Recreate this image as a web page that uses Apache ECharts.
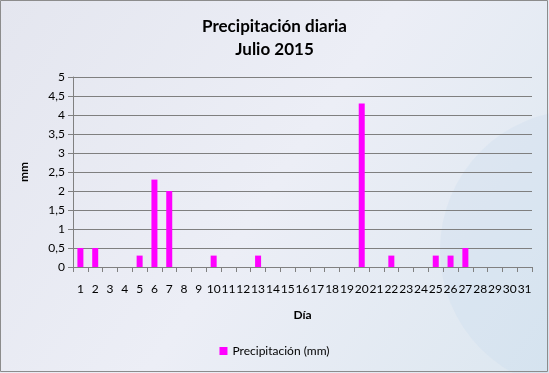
<!DOCTYPE html>
<html><head><meta charset="utf-8">
<script src="https://cdn.jsdelivr.net/npm/echarts@6/dist/echarts.min.js"></script>
<style>html,body{margin:0;padding:0;background:#fff}#c{width:549px;height:373px}</style>
</head><body><div id="c"></div>
<script>
const categories = ['1','2','3','4','5','6','7','8','9','10','11','12','13','14','15','16','17','18','19','20','21','22','23','24','25','26','27','28','29','30','31'];
const precipitation = [0.5,0.5,0,0,0.3,2.3,2.0,0,0,0.3,0,0,0.3,0,0,0,0,0,0,4.3,0,0.3,0,0,0.3,0.3,0.5,0,0,0,0];
const yTicks = [0,0.5,1,1.5,2,2.5,3,3.5,4,4.5,5];
const seriesName = 'Precipitación (mm)';
const titleText = 'Precipitación diaria\nJulio 2015';

const chart = echarts.init(document.getElementById('c'));
const font = 'Lato, "Open Sans", sans-serif';
chart.setOption({
  animation: false,
  backgroundColor: new echarts.graphic.LinearGradient(0,0,1,1,[
    {offset:0,color:'#e4e6ef'},{offset:0.5,color:'#eceef6'},{offset:1,color:'#dce7f0'}]),
  graphic: [
    {type:'circle', shape:{cx:580,cy:250,r:140}, style:{fill:'rgba(190,215,235,0.22)'}, silent:true, z:-1},
    {type:'rect', shape:{x:0.5,y:0.5,width:547,height:371}, style:{fill:null, stroke:'#8c8c8c', lineWidth:1}, silent:true}
  ],
  title: {
    text: titleText, left: 'center', top: 10,
    textStyle: {fontFamily: font, fontSize: 17, fontWeight: 'bold', color: '#000', lineHeight: 23}
  },
  legend: {
    bottom: 11, left: 'center', itemWidth: 8, itemHeight: 8, icon: 'rect',
    textStyle: {fontFamily: font, fontSize: 12, color: '#000'},
    data: [seriesName]
  },
  grid: {left: 73, right: 17, top: 77, bottom: 106, containLabel: false},
  xAxis: {
    type: 'category', data: categories,
    name: 'Día', nameLocation: 'middle', nameGap: 42,
    nameTextStyle: {fontFamily: font, fontSize: 12, fontWeight: 'bold', color: '#000'},
    axisLine: {lineStyle: {color: '#808080'}},
    axisTick: {show: true, alignWithLabel: false, length: 5, lineStyle: {color: '#808080'}},
    axisLabel: {interval: 0, fontFamily: font, fontSize: 12, color: '#000', margin: 16}
  },
  yAxis: {
    type: 'value', min: 0, max: 5, interval: 0.5,
    name: 'mm', nameLocation: 'middle', nameGap: 43, nameRotate: 90,
    nameTextStyle: {fontFamily: font, fontSize: 12, fontWeight: 'bold', color: '#000'},
    axisLine: {show: true, lineStyle: {color: '#808080'}},
    axisTick: {show: true, length: 5, lineStyle: {color: '#808080'}},
    splitLine: {lineStyle: {color: '#7f7f7f', width: 1}},
    axisLabel: {fontFamily: font, fontSize: 12, color: '#000', margin: 8,
      formatter: v => String(v).replace('.', ',')}
  },
  series: [{
    name: seriesName, type: 'bar', data: precipitation,
    barWidth: 6, itemStyle: {color: '#ff00ff'}
  }]
});
</script></body></html>
